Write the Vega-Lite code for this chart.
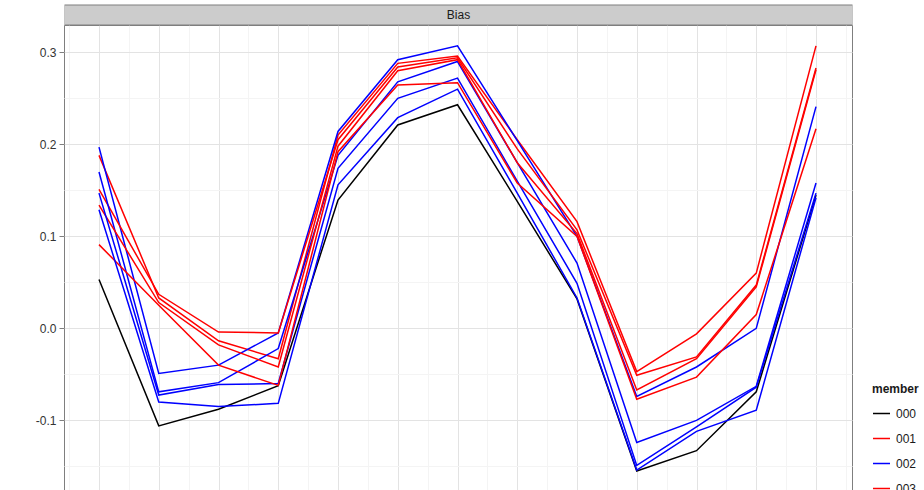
{
  "$schema": "https://vega.github.io/schema/vega-lite/v6.json",
  "autosize": {"type": "none"},
  "padding": {"left": 64, "top": 25, "right": 72, "bottom": 0},
  "width": 788,
  "height": 465,
  "background": "white",
  "config": {
    "font": "Liberation Sans",
    "view": {"stroke": "#7f7f7f", "strokeWidth": 1}
  },
  "data": {
    "values": [
      {"member": "000", "x": 1, "bias": 0.053}, {"member": "000", "x": 2, "bias": -0.106}, {"member": "000", "x": 3, "bias": -0.088}, {"member": "000", "x": 4, "bias": -0.0624}, {"member": "000", "x": 5, "bias": 0.1395}, {"member": "000", "x": 6, "bias": 0.221}, {"member": "000", "x": 7, "bias": 0.243}, {"member": "000", "x": 8, "bias": 0.138}, {"member": "000", "x": 9, "bias": 0.032}, {"member": "000", "x": 10, "bias": -0.155}, {"member": "000", "x": 11, "bias": -0.133}, {"member": "000", "x": 12, "bias": -0.069}, {"member": "000", "x": 13, "bias": 0.145},
      {"member": "001", "x": 1, "bias": 0.188}, {"member": "001", "x": 2, "bias": 0.033}, {"member": "001", "x": 3, "bias": -0.0135}, {"member": "001", "x": 4, "bias": -0.033}, {"member": "001", "x": 5, "bias": 0.21}, {"member": "001", "x": 6, "bias": 0.288}, {"member": "001", "x": 7, "bias": 0.296}, {"member": "001", "x": 8, "bias": 0.205}, {"member": "001", "x": 9, "bias": 0.116}, {"member": "001", "x": 10, "bias": -0.047}, {"member": "001", "x": 11, "bias": -0.006}, {"member": "001", "x": 12, "bias": 0.06}, {"member": "001", "x": 13, "bias": 0.307},
      {"member": "002", "x": 1, "bias": 0.197}, {"member": "002", "x": 2, "bias": -0.049}, {"member": "002", "x": 3, "bias": -0.04}, {"member": "002", "x": 4, "bias": -0.005}, {"member": "002", "x": 5, "bias": 0.214}, {"member": "002", "x": 6, "bias": 0.292}, {"member": "002", "x": 7, "bias": 0.307}, {"member": "002", "x": 8, "bias": 0.204}, {"member": "002", "x": 9, "bias": 0.1}, {"member": "002", "x": 10, "bias": -0.074}, {"member": "002", "x": 11, "bias": -0.042}, {"member": "002", "x": 12, "bias": 0.0}, {"member": "002", "x": 13, "bias": 0.241},
      {"member": "003", "x": 1, "bias": 0.151}, {"member": "003", "x": 2, "bias": 0.037}, {"member": "003", "x": 3, "bias": -0.004}, {"member": "003", "x": 4, "bias": -0.005}, {"member": "003", "x": 5, "bias": 0.205}, {"member": "003", "x": 6, "bias": 0.284}, {"member": "003", "x": 7, "bias": 0.294}, {"member": "003", "x": 8, "bias": 0.195}, {"member": "003", "x": 9, "bias": 0.107}, {"member": "003", "x": 10, "bias": -0.051}, {"member": "003", "x": 11, "bias": -0.031}, {"member": "003", "x": 12, "bias": 0.047}, {"member": "003", "x": 13, "bias": 0.283},
      {"member": "004", "x": 1, "bias": 0.17}, {"member": "004", "x": 2, "bias": -0.069}, {"member": "004", "x": 3, "bias": -0.059}, {"member": "004", "x": 4, "bias": -0.022}, {"member": "004", "x": 5, "bias": 0.188}, {"member": "004", "x": 6, "bias": 0.268}, {"member": "004", "x": 7, "bias": 0.29}, {"member": "004", "x": 8, "bias": 0.18}, {"member": "004", "x": 9, "bias": 0.071}, {"member": "004", "x": 10, "bias": -0.124}, {"member": "004", "x": 11, "bias": -0.1}, {"member": "004", "x": 12, "bias": -0.063}, {"member": "004", "x": 13, "bias": 0.158},
      {"member": "005", "x": 1, "bias": 0.134}, {"member": "005", "x": 2, "bias": 0.028}, {"member": "005", "x": 3, "bias": -0.018}, {"member": "005", "x": 4, "bias": -0.042}, {"member": "005", "x": 5, "bias": 0.198}, {"member": "005", "x": 6, "bias": 0.28}, {"member": "005", "x": 7, "bias": 0.292}, {"member": "005", "x": 8, "bias": 0.18}, {"member": "005", "x": 9, "bias": 0.103}, {"member": "005", "x": 10, "bias": -0.067}, {"member": "005", "x": 11, "bias": -0.033}, {"member": "005", "x": 12, "bias": 0.045}, {"member": "005", "x": 13, "bias": 0.281},
      {"member": "006", "x": 1, "bias": 0.147}, {"member": "006", "x": 2, "bias": -0.0725}, {"member": "006", "x": 3, "bias": -0.061}, {"member": "006", "x": 4, "bias": -0.06}, {"member": "006", "x": 5, "bias": 0.174}, {"member": "006", "x": 6, "bias": 0.25}, {"member": "006", "x": 7, "bias": 0.272}, {"member": "006", "x": 8, "bias": 0.16}, {"member": "006", "x": 9, "bias": 0.049}, {"member": "006", "x": 10, "bias": -0.149}, {"member": "006", "x": 11, "bias": -0.107}, {"member": "006", "x": 12, "bias": -0.064}, {"member": "006", "x": 13, "bias": 0.147},
      {"member": "007", "x": 1, "bias": 0.091}, {"member": "007", "x": 2, "bias": 0.025}, {"member": "007", "x": 3, "bias": -0.04}, {"member": "007", "x": 4, "bias": -0.062}, {"member": "007", "x": 5, "bias": 0.192}, {"member": "007", "x": 6, "bias": 0.2645}, {"member": "007", "x": 7, "bias": 0.267}, {"member": "007", "x": 8, "bias": 0.158}, {"member": "007", "x": 9, "bias": 0.1}, {"member": "007", "x": 10, "bias": -0.077}, {"member": "007", "x": 11, "bias": -0.053}, {"member": "007", "x": 12, "bias": 0.015}, {"member": "007", "x": 13, "bias": 0.217},
      {"member": "008", "x": 1, "bias": 0.129}, {"member": "008", "x": 2, "bias": -0.08}, {"member": "008", "x": 3, "bias": -0.085}, {"member": "008", "x": 4, "bias": -0.0815}, {"member": "008", "x": 5, "bias": 0.156}, {"member": "008", "x": 6, "bias": 0.229}, {"member": "008", "x": 7, "bias": 0.26}, {"member": "008", "x": 8, "bias": 0.147}, {"member": "008", "x": 9, "bias": 0.033}, {"member": "008", "x": 10, "bias": -0.154}, {"member": "008", "x": 11, "bias": -0.112}, {"member": "008", "x": 12, "bias": -0.089}, {"member": "008", "x": 13, "bias": 0.142}
    ]
  },
  "layer": [
    {
      "mark": {"type": "point", "opacity": 0, "size": 0},
      "encoding": {
        "x": {
          "field": "x", "type": "quantitative",
          "scale": {"domain": [0.4142, 13.6025], "nice": false, "zero": false},
          "axis": {
            "orient": "top", "title": "Bias", "labels": false, "ticks": false, "grid": false,
            "domainColor": "#7f7f7f", "domainWidth": 21, "offset": 10.5,
            "titleFontSize": 12, "titleFontWeight": "normal", "titleColor": "#1a1a1a",
            "titleX": 394, "titleY": 0, "titleBaseline": "middle", "titleAnchor": "middle"
          }
        }
      }
    },
    {
      "mark": {"type": "point", "opacity": 0, "size": 0},
      "encoding": {
        "x": {
          "field": "x", "type": "quantitative",
          "axis": {
            "orient": "top", "title": "Bias", "labels": false, "ticks": false, "grid": false,
            "domainColor": "#cccccc", "domainWidth": 19, "offset": 10.5,
            "titleFontSize": 12, "titleFontWeight": "normal", "titleColor": "#1a1a1a",
            "titleX": 394, "titleY": 0, "titleBaseline": "middle", "titleAnchor": "middle"
          }
        }
      }
    },
    {
      "mark": {"type": "line", "strokeWidth": 1.5},
      "encoding": {
        "x": {
          "field": "x", "type": "quantitative",
          "axis": {
            "orient": "bottom", "title": null, "labels": false, "ticks": false, "domain": false,
            "values": [0.5, 1, 1.5, 2, 2.5, 3, 3.5, 4, 4.5, 5, 5.5, 6, 6.5, 7, 7.5, 8, 8.5, 9, 9.5, 10, 10.5, 11, 11.5, 12, 12.5, 13, 13.5],
            "grid": true,
            "gridColor": {"condition": {"test": "datum.value % 1 !== 0", "value": "#f4f4f4"}, "value": "#e3e3e3"},
            "gridWidth": 1
          }
        },
        "y": {
          "field": "bias", "type": "quantitative",
          "scale": {"domain": [-0.1757, 0.3297], "nice": false, "zero": false},
          "axis": {
            "title": null, "domain": false,
            "values": [-0.15, -0.1, -0.05, 0, 0.05, 0.1, 0.15, 0.2, 0.25, 0.3],
            "grid": true,
            "gridColor": {"condition": {"test": "abs(round(datum.value * 10) - datum.value * 10) > 0.1", "value": "#f4f4f4"}, "value": "#e3e3e3"},
            "tickOpacity": {"condition": {"test": "abs(round(datum.value * 10) - datum.value * 10) > 0.1", "value": 0}, "value": 1},
            "tickColor": "#7f7f7f", "tickSize": 5,
            "labelExpr": "abs(round(datum.value * 10) - datum.value * 10) > 0.1 ? '' : replace(format(datum.value, '.1f'), '\u2212', '-')",
            "labelFontSize": 12, "labelColor": "#333333", "labelPadding": 3
          }
        },
        "color": {
          "field": "member", "type": "nominal",
          "scale": {
            "domain": ["000", "001", "002", "003", "004", "005", "006", "007", "008"],
            "range": ["#000000", "#ff0000", "#0000ff", "#ff0000", "#0000ff", "#ff0000", "#0000ff", "#ff0000", "#0000ff"]
          },
          "legend": {
            "orient": "none", "legendX": 808, "legendY": 359,
            "title": "member", "titleFontSize": 12, "titleFontWeight": "bold", "titleColor": "#1a1a1a", "titlePadding": 8,
            "symbolType": "stroke", "symbolSize": 289, "symbolStrokeWidth": 1.5,
            "labelFontSize": 12, "labelColor": "#1a1a1a", "labelOffset": 5,
            "rowPadding": 9, "padding": 0
          }
        }
      }
    }
  ],
  "resolve": {"axis": {"x": "independent"}}
}
